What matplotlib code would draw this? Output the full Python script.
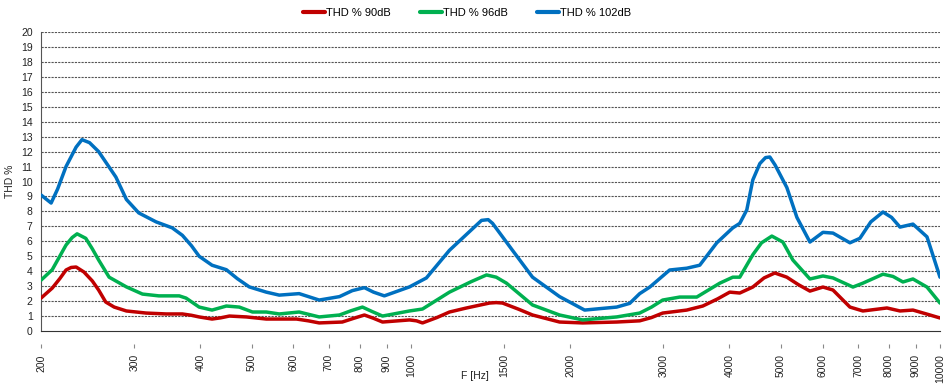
import matplotlib
matplotlib.use('Agg')
from matplotlib import pyplot as plt
from matplotlib.ticker import FixedLocator, NullLocator

# Data (frequency in Hz, THD in %)
f_90 = [200, 210, 217, 223, 228, 233, 241, 250, 257, 265, 275, 290, 316, 345, 370, 385, 398,
        421, 437, 454, 489, 533, 608, 640, 671, 742, 780, 817, 850, 884, 994, 1025, 1052,
        1120, 1183, 1274, 1408, 1450, 1490, 1600, 1698, 1910, 2112, 2449, 2707, 2850, 2992,
        3322, 3562, 3800, 4006, 4184, 4428, 4650, 4874, 5135, 5400, 5678, 6009, 6277, 6500,
        6758, 7150, 7939, 8403, 8890, 9575, 10000]
thd_90 = [2.2, 2.87, 3.5, 4.08, 4.25, 4.28, 3.95, 3.35, 2.74, 1.94, 1.6, 1.34, 1.2, 1.14, 1.14, 1.05, 0.94,
          0.8, 0.88, 1.0, 0.94, 0.8, 0.8, 0.68, 0.54, 0.6, 0.85, 1.07, 0.85, 0.6, 0.74, 0.68, 0.54,
          0.9, 1.27, 1.54, 1.87, 1.9, 1.87, 1.45, 1.07, 0.6, 0.54, 0.6, 0.68, 0.9, 1.2,
          1.4, 1.67, 2.15, 2.6, 2.54, 2.94, 3.55, 3.88, 3.6, 3.1, 2.67, 2.94, 2.74, 2.2,
          1.6, 1.34, 1.54, 1.34, 1.4, 1.07, 0.87]

f_96 = [200, 210, 217, 223, 229, 234, 243, 250, 257, 269, 290, 311, 334, 365, 376, 398, 421,
        448, 474, 502, 533, 564, 615, 671, 733, 770, 810, 845, 884, 994, 1052, 1183, 1300,
        1390, 1450, 1516, 1698, 1910, 2112, 2449, 2707, 2850, 2992, 3222, 3470, 3836, 4059,
        4184, 4428, 4600, 4811, 5047, 5271, 5678, 6009, 6277, 6847, 7150, 7803, 8150, 8511,
        8890, 9449, 10000]
thd_96 = [3.4, 4.1, 5.0, 5.75, 6.25, 6.5, 6.2, 5.5, 4.75, 3.6, 2.95, 2.47, 2.35, 2.35, 2.2, 1.6, 1.4,
          1.67, 1.6, 1.27, 1.27, 1.14, 1.27, 0.94, 1.07, 1.35, 1.6, 1.3, 1.0, 1.34, 1.47, 2.6, 3.3,
          3.75, 3.6, 3.2, 1.74, 1.07, 0.74, 0.94, 1.2, 1.6, 2.07, 2.27, 2.27, 3.2, 3.6,
          3.6, 5.1, 5.9, 6.35, 5.95, 4.75, 3.48, 3.68, 3.55, 2.94, 3.2, 3.8, 3.65, 3.28,
          3.48, 2.94, 1.87]

f_102 = [200, 209, 215, 223, 233, 239, 247, 257, 277, 290, 306, 330, 354, 370, 385, 398, 421,
         448, 470, 495, 533, 564, 615, 671, 733, 775, 817, 850, 891, 994, 1070, 1183, 1360,
         1400, 1427, 1556, 1698, 1910, 2130, 2449, 2592, 2707, 2829, 3084, 3322, 3515, 3786,
         4059, 4184, 4314, 4428, 4566, 4680, 4769, 4880, 5135, 5365, 5678, 6009, 6277, 6758,
         7057, 7400, 7803, 8100, 8403, 8890, 9449, 10000]
thd_102 = [9.1, 8.56, 9.5, 11.0, 12.3, 12.8, 12.6, 12.0, 10.3, 8.8, 7.9, 7.3, 6.9, 6.4, 5.7, 5.0, 4.4,
           4.1, 3.5, 2.95, 2.6, 2.4, 2.5, 2.07, 2.3, 2.7, 2.9, 2.6, 2.35, 2.95, 3.55, 5.4, 7.4,
           7.45, 7.2, 5.4, 3.6, 2.3, 1.4, 1.6, 1.85, 2.5, 2.94, 4.08, 4.2, 4.4, 5.9,
           6.9, 7.2, 8.1, 10.1, 11.2, 11.6, 11.64, 11.1, 9.6, 7.6, 5.95, 6.6, 6.55, 5.9,
           6.2, 7.3, 7.96, 7.6, 6.95, 7.15, 6.3, 3.6]

xticks = [200, 300, 400, 500, 600, 700, 800, 900, 1000, 1500, 2000, 3000, 4000,
          5000, 6000, 7000, 8000, 9000, 10000]

plt.rcParams['font.family'] = ['Liberation Sans', 'DejaVu Sans']

fig = plt.figure(figsize=(9.45, 3.86), dpi=100)
ax = fig.add_axes([0.0434, 0.1425, 0.9513, 0.7745])

line_kw = dict(lw=2.5, solid_joinstyle='round', solid_capstyle='round', zorder=3)
ax.plot(f_90, thd_90, color='#C00000', label='THD % 90dB', **line_kw)
ax.plot(f_96, thd_96, color='#00B050', label='THD % 96dB', **line_kw)
ax.plot(f_102, thd_102, color='#0070C0', label='THD % 102dB', **line_kw)

ax.set_xscale('log')
ax.set_xlim(200, 10000)
ax.set_ylim(0, 20)
ax.set_yticks(range(0, 21))
ax.tick_params(axis='y', length=0, labelsize=7.5, pad=6, colors='#222222')
ax.xaxis.set_major_locator(NullLocator())
ax.xaxis.set_minor_locator(NullLocator())

for y in range(1, 21):
    ax.axhline(y, color='#555555', lw=0.8, ls=(0, (2, 1)), zorder=1)

for s in ['top', 'right']:
    ax.spines[s].set_visible(False)
ax.spines['left'].set_color('#555555')
ax.spines['bottom'].set_color('#333333')

# x tick marks and labels sit a little below the axis line
sec = ax.secondary_xaxis(-0.045)
sec.spines['bottom'].set_visible(False)
sec.xaxis.set_major_locator(FixedLocator(xticks))
sec.xaxis.set_minor_locator(NullLocator())
sec.set_xticklabels([str(t) for t in xticks], rotation=90)
sec.tick_params(axis='x', length=3, width=0.8, color='#888888', labelsize=7.5, pad=4,
                labelcolor='#222222')

ax.set_ylabel('THD %', fontsize=7.5, color='#222222', labelpad=4)
fig.text(0.503, 0.012, 'F [Hz]', fontsize=7.5, color='#222222', ha='center', va='bottom')

leg = fig.legend(loc='upper center', bbox_to_anchor=(0.494, 1.005), ncol=3, frameon=False,
                 fontsize=8, handlelength=2.0, handletextpad=0.1, columnspacing=2.6)
for h in leg.get_lines():
    h.set_linewidth(3)

fig.savefig('out.png', dpi=100)
